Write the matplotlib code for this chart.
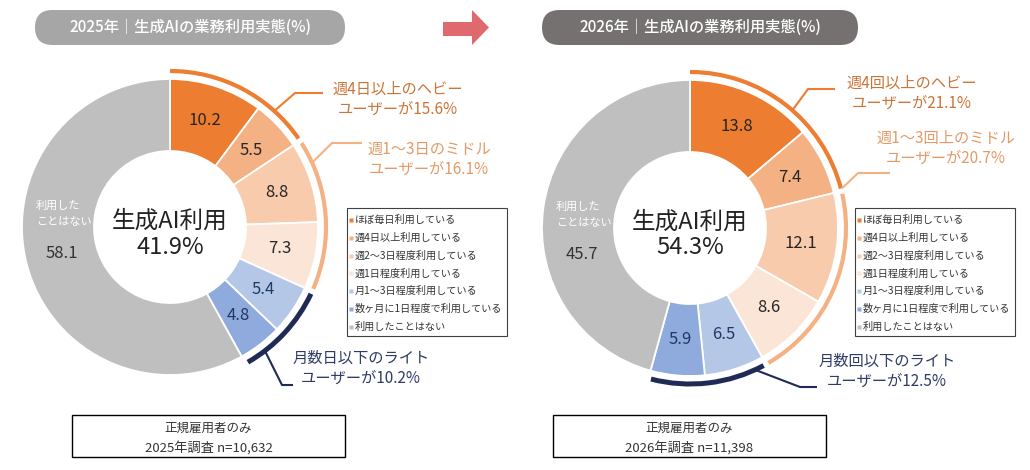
import numpy as np
import matplotlib.pyplot as plt
from matplotlib.patches import Arc, Rectangle, FancyBboxPatch, Polygon

plt.rcParams['font.family'] = ['Noto Sans CJK JP', 'DejaVu Sans']

# ---- data -------------------------------------------------------------
categories = ['ほぼ毎日利用している', '週4日以上利用している', '週2～3日程度利用している',
              '週1日程度利用している', '月1～3日程度利用している',
              '数ヶ月に1日程度で利用している', '利用したことはない']
colors = ['#ED7D31', '#F4B183', '#F8CBAD', '#FBE5D6', '#B4C7E7', '#8FAADC', '#BFBFBF']

years = ['2025', '2026']
values_2025 = [10.2, 5.5, 8.8, 7.3, 5.4, 4.8, 58.1]
values_2026 = [13.8, 7.4, 12.1, 8.6, 6.5, 5.9, 45.7]
heavy_share = [15.6, 21.1]
middle_share = [16.1, 20.7]
light_share = [10.2, 12.5]
heavy_labels = ['週4日以上のヘビー', '週4回以上のヘビー']
middle_labels = ['週1～3日のミドル', '週1～3回上のミドル']
light_labels = ['月数日以下のライト', '月数回以下のライト']
sample_sizes = ['10,632', '11,398']

# ---- layout (pixel coords, y measured from top) -----------------------
W, H = 1030, 470
R, R_IN = 148, 76
R_ARC = 156

def Y(y):
    return H - y

panels = [
    dict(cx=170, cy=227, pill=(35, 345, '#A6A6A6'), legend_x=347, box=(72, 345),
         leaders=[(48, (295, 93), 323, (398, 99)),
                  (24.5, (332, 143), 362, (429, 159)),
                  (-52.6, (282, 385), 293, (361, 368))]),
    dict(cx=690, cy=228, pill=(542, 858, '#767171'), legend_x=855, box=(553, 826),
         leaders=[(49, (808, 89), 835, (912, 93)),
                  (14.6, (858, 173), 890, (946, 148)),
                  (-65, (800, 387), 817, (887, 371))]),
]
group_idx = [(0, 2), (2, 4), (4, 6)]
group_line_colors = ['#ED7D31', '#F4B183', '#1F2A55']
group_line_widths = [3.0, 3.0, 3.6]
group_text_colors = ['#CC7437', '#E39A66', '#2E3B66']
value_colors = ['#262626'] * 4 + ['#1F3864'] * 2

fig = plt.figure(figsize=(W / 100, H / 100), dpi=100)
ax = fig.add_axes([0, 0, 1, 1])


def polar(cx, cy, r, ang):
    a = np.radians(ang)
    return cx + r * np.cos(a), Y(cy) + r * np.sin(a)


for k, (p, vals) in enumerate(zip(panels, [values_2025, values_2026])):
    cx, cy = p['cx'], p['cy']
    wedges, _ = ax.pie(vals, colors=colors, radius=R, center=(cx, Y(cy)),
                       startangle=90, counterclock=False, frame=True,
                       wedgeprops=dict(width=R - R_IN, edgecolor='white', linewidth=1.3))

    # slice values
    for i, w in enumerate(wedges[:-1]):
        mid = (w.theta1 + w.theta2) / 2
        x, y = polar(cx, cy, (R + R_IN) / 2, mid)
        ax.text(x, y, f'{vals[i]:.1f}', ha='center', va='center',
                fontsize=12, color=value_colors[i])
    x, y = polar(cx, cy, 111, 194)
    ax.text(x, y, f'{vals[-1]:.1f}', ha='center', va='center', fontsize=12, color='#333333')
    ax.text(cx - 134, Y(cy - 21), '利用した', ha='left', va='center', fontsize=8, color='white')
    ax.text(cx - 134, Y(cy - 5), 'ことはない', ha='left', va='center', fontsize=8, color='white')

    # centre
    ax.text(cx, Y(cy - 6), '生成AI利用', ha='center', va='center', fontsize=17, color='#222222')
    ax.text(cx, Y(cy + 20), f'{100 - vals[-1]:.1f}%', ha='center', va='center',
            fontsize=17, color='#222222')

    # group arcs, leaders, labels
    shares = [heavy_share[k], middle_share[k], light_share[k]]
    names = [heavy_labels[k], middle_labels[k], light_labels[k]]
    for g, (a, b) in enumerate(group_idx):
        t1 = wedges[b - 1].theta1 + 1
        t2 = wedges[a].theta2 - (0 if g == 0 else 1)
        ax.add_patch(Arc((cx, Y(cy)), 2 * R_ARC, 2 * R_ARC, theta1=t1, theta2=t2,
                         color=group_line_colors[g], lw=group_line_widths[g],
                         capstyle='butt'))
        ang, (ex, ey), endx, (tx, ty) = p['leaders'][g]
        sx, sy = polar(cx, cy, R_ARC + 1, ang)
        ax.plot([sx, ex, endx], [sy, Y(ey), Y(ey)], color=group_line_colors[g],
                lw=1.5, solid_capstyle='butt')
        ax.text(tx, Y(ty), f'{names[g]}\nユーザーが{shares[g]:.1f}%', ha='center',
                va='center', fontsize=11, color=group_text_colors[g], linespacing=1.2)

    # title pill
    x0, x1, pc = p['pill']
    ax.add_patch(FancyBboxPatch((x0, Y(45)), x1 - x0, 35,
                                boxstyle='round,pad=0,rounding_size=17.5',
                                fc=pc, ec='none'))
    ax.text((x0 + x1) / 2, Y(27.5), f'{years[k]}年｜生成AIの業務利用実態(%)',
            ha='center', va='center', fontsize=11, color='white', fontweight='medium')

    # legend
    lx = p['legend_x']
    ax.add_patch(Rectangle((lx, Y(336)), 160, 128, fc='white', ec='#404040', lw=0.8))
    for i, name in enumerate(categories):
        yy = Y(220 + i * 17.8)
        ax.plot(lx + 4, yy, marker='s', ms=2.2, color=colors[i], mec='none')
        ax.text(lx + 8, yy, name, ha='left', va='center', fontsize=7.3, color='#333333')

    # sample box
    bx0, bx1 = p['box']
    ax.add_patch(Rectangle((bx0, Y(457)), bx1 - bx0, 42, fc='white', ec='black', lw=1))
    ax.text((bx0 + bx1) / 2, Y(428), '正規雇用者のみ', ha='center', va='center',
            fontsize=9, color='#333333')
    ax.text((bx0 + bx1) / 2, Y(448), f'{years[k]}年調査 n={sample_sizes[k]}',
            ha='center', va='center', fontsize=9.5, color='#333333')

# arrow between the panels
arrow = [(443, 22), (472, 22), (472, 10), (489, 27.5), (472, 45), (472, 36), (443, 36)]
ax.add_patch(Polygon([(x, Y(y)) for x, y in arrow], closed=True, fc='#E06970', ec='none'))

ax.set_xlim(0, W)
ax.set_ylim(0, H)
ax.set_aspect('auto')
ax.axis('off')

fig.savefig('out.png', dpi=100)
